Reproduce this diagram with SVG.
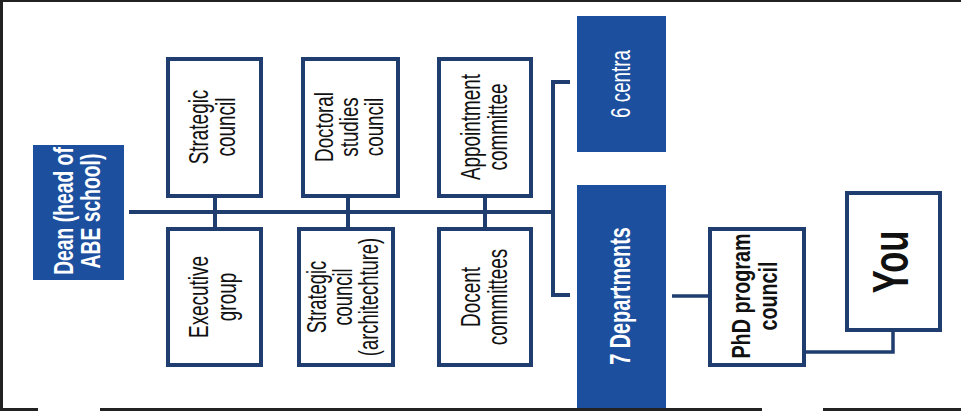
<svg xmlns="http://www.w3.org/2000/svg" width="961" height="411" viewBox="0 0 961 411">
<style>
.box{fill:#fff;stroke:#1f3d6e;stroke-width:4}
.blue{fill:#1d4f9f}
.ln{fill:none;stroke:#1f3d6e;stroke-width:4}
.ln3{fill:none;stroke:#1f3d6e;stroke-width:3.5}
.t{font-family:"Liberation Sans",Arial,sans-serif;font-size:27px;fill:#111;text-anchor:middle}
.w{fill:#fff}
.b{font-weight:bold}
.frame{fill:#222}
</style>
<rect width="961" height="411" fill="#fff"/>
<g id="frame">
<rect class="frame" x="0" y="0" width="961" height="2"/>
<rect class="frame" x="0" y="0" width="3" height="411"/>
<rect class="frame" x="0" y="408" width="38" height="3"/>
<rect class="frame" x="100" y="408" width="662" height="3"/>
<rect class="frame" x="823" y="408" width="138" height="3"/>
</g>
<g id="connectors">
<path class="ln" d="M129,212 H553"/>
<path class="ln" d="M215,198 V227 M348,198 V227 M485,198 V227"/>
<path class="ln" d="M570,82 H553 V295 H570"/>
<path class="ln3" d="M672,296 H708"/>
<path class="ln3" d="M806,352 H893 V332"/>
</g>
<g id="dean">
<rect class="blue" x="33" y="145" width="91" height="135"/>
<text class="t w b" font-size="28" style="font-size:28px" transform="translate(0,211) rotate(-90) scale(0.69,1)"><tspan x="0" y="73">Dean (head of</tspan><tspan x="0" y="100">ABE school)</tspan></text>
</g>
<g id="strategic-council">
<rect class="box" x="168" y="59" width="93" height="137"/>
<text class="t" transform="translate(0,127) rotate(-90) scale(0.7,1)"><tspan x="0" y="208">Strategic</tspan><tspan x="0" y="235">council</tspan></text>
</g>
<g id="executive-group">
<rect class="box" x="168" y="229" width="93" height="136"/>
<text class="t" transform="translate(0,297) rotate(-90) scale(0.7,1)"><tspan x="0" y="208">Executive</tspan><tspan x="0" y="236">group</tspan></text>
</g>
<g id="doctoral-studies-council">
<rect class="box" x="303" y="59" width="95" height="137"/>
<text class="t" style="font-size:25px" transform="translate(0,127) rotate(-90) scale(0.75,1)"><tspan x="0" y="333">Doctoral</tspan><tspan x="0" y="358">studies</tspan><tspan x="0" y="383">council</tspan></text>
</g>
<g id="strategic-council-architecture">
<rect class="box" x="299" y="229" width="94" height="136"/>
<text class="t" transform="translate(0,297) rotate(-90) scale(0.68,1)"><tspan x="0" y="326">Strategic</tspan><tspan x="0" y="352">council</tspan><tspan x="0" y="378">(architechture)</tspan></text>
</g>
<g id="appointment-committee">
<rect class="box" x="439" y="59" width="92" height="137"/>
<text class="t" transform="translate(0,127) rotate(-90) scale(0.7,1)"><tspan x="0" y="480">Appointment</tspan><tspan x="0" y="507">committee</tspan></text>
</g>
<g id="docent-committees">
<rect class="box" x="439" y="229" width="92" height="136"/>
<text class="t" transform="translate(0,297) rotate(-90) scale(0.7,1)"><tspan x="0" y="480">Docent</tspan><tspan x="0" y="507">committees</tspan></text>
</g>
<g id="six-centra">
<rect class="blue" x="577" y="16" width="89" height="136"/>
<text class="t w" style="font-size:28px" transform="translate(0,84) rotate(-90) scale(0.67,1)"><tspan x="0" y="630">6 centra</tspan></text>
</g>
<g id="seven-departments">
<rect class="blue" x="577" y="185" width="89" height="223"/>
<text class="t w b" style="font-size:30px" transform="translate(0,296) rotate(-90) scale(0.66,1)"><tspan x="0" y="630">7 Departments</tspan></text>
</g>
<g id="phd-program-council">
<rect class="box" x="710" y="229" width="94" height="136"/>
<text class="t b" style="font-size:26px" transform="translate(0,296) rotate(-90) scale(0.76,1)"><tspan x="0" y="750">PhD program</tspan><tspan x="0" y="777">council</tspan></text>
</g>
<g id="you">
<rect class="box" x="847" y="193" width="93" height="137"/>
<text class="t b" style="font-size:50px" transform="translate(0,262) rotate(-90) scale(0.69,1)"><tspan x="0" y="908">You</tspan></text>
</g>
</svg>
